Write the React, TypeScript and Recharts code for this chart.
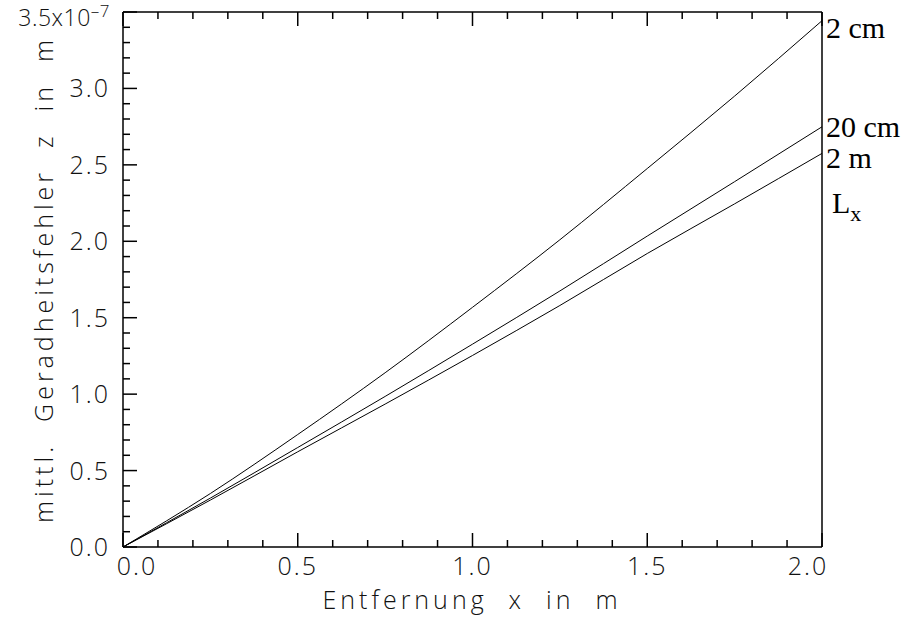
import { LineChart, Line, XAxis, YAxis } from "recharts";

// Entfernung x in m
const X_VALUES = [0, 0.25, 0.5, 0.75, 1.0, 1.25, 1.5, 1.75, 2.0];
// mittl. Geradheitsfehler, in units of 1e-7 m
const ERR_2CM = [0, 0.35, 0.736, 1.14, 1.568, 2.01, 2.476, 2.95, 3.443];
const ERR_20CM = [0, 0.32, 0.651, 0.985, 1.327, 1.675, 2.034, 2.39, 2.749];
const ERR_2M = [0, 0.307, 0.623, 0.935, 1.253, 1.58, 1.92, 2.245, 2.575];

const SERIES = [
  { key: "cm2", name: "2 cm", values: ERR_2CM, dy: 17 },
  { key: "cm20", name: "20 cm", values: ERR_20CM, dy: 10 },
  { key: "m2", name: "2 m", values: ERR_2M, dy: 15 },
];

const X_TICKS = [
  0, 0.1, 0.2, 0.3, 0.4, 0.5, 0.6, 0.7, 0.8, 0.9, 1.0, 1.1, 1.2, 1.3, 1.4, 1.5, 1.6, 1.7, 1.8, 1.9, 2.0,
];
const Y_TICKS = [
  0, 0.1, 0.2, 0.3, 0.4, 0.5, 0.6, 0.7, 0.8, 0.9, 1.0, 1.1, 1.2, 1.3, 1.4, 1.5, 1.6, 1.7, 1.8,
  1.9, 2.0, 2.1, 2.2, 2.3, 2.4, 2.5, 2.6, 2.7, 2.8, 2.9, 3.0, 3.1, 3.2, 3.3, 3.4, 3.5,
];

const rows = X_VALUES.map((x, i) => {
  const r: Record<string, number> = { x };
  SERIES.forEach((s) => (r[s.key] = s.values[i]));
  return r;
});

const LAST = X_VALUES.length - 1;
const SANS = "'Open Sans', sans-serif";
const SERIF = "'Liberation Serif', 'Times New Roman', serif";
const INK = "#111";

const isMajor = (v: number) => Math.abs(v * 2 - Math.round(v * 2)) < 1e-6;
const tickLen = (v: number) => (isMajor(v) ? 14 : 7);

const labelStyle = {
  fontFamily: SANS,
  fontWeight: 300,
  fontSize: 25,
  letterSpacing: 2,
  fill: INK,
} as const;

const titleStyle = { ...labelStyle, letterSpacing: 4, whiteSpace: "pre" } as const;

function BottomTick(props: any) {
  const { x, y, payload } = props;
  const v = payload.value as number;
  const shift = v === 0 ? 14 : v === 2 ? -14 : 0;
  return (
    <g>
      <line x1={x} x2={x} y1={y} y2={y - tickLen(v)} stroke="#000" strokeWidth={1.5} />
      {isMajor(v) ? (
        <text x={x + shift} y={y + 28} textAnchor="middle" style={labelStyle}>
          {v.toFixed(1)}
        </text>
      ) : null}
    </g>
  );
}

function TopTick(props: any) {
  const { x, y, payload } = props;
  const v = payload.value as number;
  return <line x1={x} x2={x} y1={y} y2={y + tickLen(v)} stroke="#000" strokeWidth={1.5} />;
}

function LeftTick(props: any) {
  const { x, y, payload } = props;
  const v = payload.value as number;
  const top = v === 3.5;
  return (
    <g>
      <line x1={x} x2={x + tickLen(v)} y1={y} y2={y} stroke="#000" strokeWidth={1.5} />
      {isMajor(v) && !top ? (
        <text x={x - 13} y={y + 9} textAnchor="end" style={labelStyle}>
          {v.toFixed(1)}
        </text>
      ) : null}
      {top ? (
        <text x={x - 13} y={y + 14} textAnchor="end" style={{ ...labelStyle, fontSize: 23, letterSpacing: 0.5 }}>
          {v.toFixed(1)}x10
          <tspan dy={-9} fontSize={17}>
            –7
          </tspan>
        </text>
      ) : null}
    </g>
  );
}

function RightTick(props: any) {
  const { x, y, payload } = props;
  const v = payload.value as number;
  return <line x1={x} x2={x - tickLen(v)} y1={y} y2={y} stroke="#000" strokeWidth={1.5} />;
}

export default function App() {
  return (
    <div style={{ position: "absolute", left: 0, top: 0, width: 921, height: 621, background: "#fff" }}>
      <LineChart width={921} height={621} data={rows} margin={{ top: 0, right: 0, bottom: 0, left: 0 }}>
        <XAxis
          xAxisId="b"
          type="number"
          dataKey="x"
          domain={[0, 2]}
          ticks={X_TICKS}
          interval={0}
          height={74}
          tickSize={0}
          tickMargin={0}
          tickLine={false}
          axisLine={{ stroke: "#000", strokeWidth: 1.5 }}
          tick={<BottomTick />}
          label={{
            content: () => (
              <text x={472} y={609} textAnchor="middle" style={titleStyle}>
                {"Entfernung  x  in  m"}
              </text>
            ),
          }}
        />
        <XAxis
          xAxisId="t"
          orientation="top"
          type="number"
          dataKey="x"
          domain={[0, 2]}
          ticks={X_TICKS}
          interval={0}
          height={12}
          tickSize={0}
          tickMargin={0}
          tickLine={false}
          axisLine={{ stroke: "#000", strokeWidth: 1.5 }}
          tick={<TopTick />}
        />
        <YAxis
          yAxisId="l"
          type="number"
          domain={[0, 3.5]}
          ticks={Y_TICKS}
          interval={0}
          width={123}
          tickSize={0}
          tickMargin={0}
          tickLine={false}
          axisLine={{ stroke: "#000", strokeWidth: 1.5 }}
          tick={<LeftTick />}
          label={{
            content: (p: any) => {
              const vb = p.viewBox;
              const cy = vb.y + vb.height / 2;
              return (
                <text
                  x={53}
                  y={cy}
                  transform={`rotate(-90 53 ${cy})`}
                  textAnchor="middle"
                  style={titleStyle}
                >
                  {"mittl.  Geradheitsfehler  z  in  m"}
                </text>
              );
            },
          }}
        />
        <YAxis
          yAxisId="r"
          orientation="right"
          type="number"
          domain={[0, 3.5]}
          ticks={Y_TICKS}
          interval={0}
          width={99}
          tickSize={0}
          tickMargin={0}
          tickLine={false}
          axisLine={{ stroke: "#000", strokeWidth: 1.5 }}
          tick={<RightTick />}
          label={{
            content: (p: any) => {
              const vb = p.viewBox;
              return (
                <text x={vb.x + 10} y={vb.y + 201} style={{ fontFamily: SERIF, fontSize: 30, fill: "#000" }}>
                  L
                  <tspan dy={8} fontSize={22}>
                    x
                  </tspan>
                </text>
              );
            },
          }}
        />
        {SERIES.map((s) => (
          <Line
            key={s.key}
            xAxisId="b"
            yAxisId="l"
            dataKey={s.key}
            type="monotone"
            stroke="#000"
            strokeWidth={1}
            dot={false}
            isAnimationActive={false}
            label={(p: any) =>
              p.index === LAST ? (
                <text
                  key={s.key}
                  x={p.x + 4}
                  y={p.y + s.dy}
                  style={{ fontFamily: SERIF, fontSize: 30, fill: "#000" }}
                >
                  {s.name}
                </text>
              ) : (
                <g key={`${s.key}-${p.index}`} />
              )
            }
          />
        ))}
      </LineChart>
    </div>
  );
}
